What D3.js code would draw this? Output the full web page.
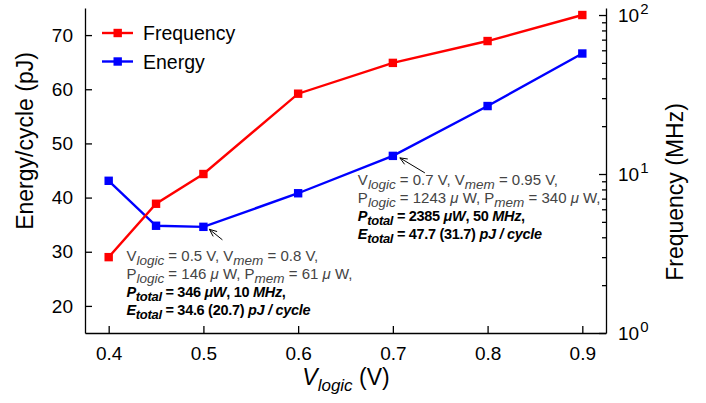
<!DOCTYPE html>
<html>
<head>
<meta charset="utf-8">
<script src="https://cdn.jsdelivr.net/npm/d3@7"></script>
<style>
  body { margin: 0; background: #fff; }
  text { font-family: "Liberation Sans", Arial, sans-serif; }
</style>
</head>
<body>
<div id="chart"></div>
<script>
// values
const vlogic = [0.4, 0.45, 0.5, 0.6, 0.7, 0.8, 0.9];
const energy = [43.1, 34.8, 34.6, 40.8, 47.7, 56.9, 66.6];      // pJ, left axis
const frequency = [3.0, 6.5, 10, 32, 50, 68.6, 100];            // MHz, right axis (log)
const xTicks = [0.4, 0.5, 0.6, 0.7, 0.8, 0.9];
const energyTicks = [20, 30, 40, 50, 60, 70];
const freqMajor = [1, 10, 100];
const freqMinor = [2, 3, 4, 5, 6, 7, 8, 9, 20, 30, 40, 50, 60, 70, 80, 90];

// annotation text, as segments (sub = subscript, it = italic)
const noteLow = [
  [{t: "V"}, {t: "logic", sub: 1, it: 1}, {t: " = 0.5 V, V"}, {t: "mem", sub: 1, it: 1}, {t: " = 0.8 V,"}],
  [{t: "P"}, {t: "logic", sub: 1, it: 1}, {t: " = 146 "}, {t: "\u03bc ", it: 1}, {t: "W, P"}, {t: "mem", sub: 1, it: 1}, {t: " = 61 "}, {t: "\u03bc ", it: 1}, {t: "W,"}],
  [{t: "P", it: 1}, {t: "total", sub: 1, it: 1}, {t: " = 346 "}, {t: "\u03bcW", it: 1}, {t: ", 10 "}, {t: "MHz", it: 1}, {t: ","}],
  [{t: "E", it: 1}, {t: "total", sub: 1, it: 1}, {t: " = 34.6 (20.7) "}, {t: "pJ / cycle", it: 1}]
];
const noteHigh = [
  [{t: "V"}, {t: "logic", sub: 1, it: 1}, {t: " = 0.7 V, V"}, {t: "mem", sub: 1, it: 1}, {t: " = 0.95 V,"}],
  [{t: "P"}, {t: "logic", sub: 1, it: 1}, {t: " = 1243 "}, {t: "\u03bc ", it: 1}, {t: "W, P"}, {t: "mem", sub: 1, it: 1}, {t: " = 340 "}, {t: "\u03bc ", it: 1}, {t: "W,"}],
  [{t: "P", it: 1}, {t: "total", sub: 1, it: 1}, {t: " = 2385 "}, {t: "\u03bcW", it: 1}, {t: ", 50 "}, {t: "MHz", it: 1}, {t: ","}],
  [{t: "E", it: 1}, {t: "total", sub: 1, it: 1}, {t: " = 47.7 (31.7) "}, {t: "pJ / cycle", it: 1}]
];

const width = 706, height = 403;
const plotLeft = 85, plotRight = 606, plotTop = 8, plotBottom = 333;

const x = d3.scaleLinear([0.375, 0.925], [plotLeft, plotRight]);
const yE = d3.scaleLinear([15, 75], [plotBottom, plotTop]);
const yF = d3.scaleLog([1, 110.7], [plotBottom, plotTop]);

const svg = d3.select("#chart").append("svg")
    .attr("width", width)
    .attr("height", height);

// axes, ticks point inward
const gx = svg.append("g")
    .attr("transform", `translate(0,${plotBottom})`)
    .call(d3.axisBottom(x).tickValues(xTicks).tickFormat(d3.format(".1f"))
        .tickSizeInner(-7).tickSizeOuter(0).tickPadding(14));

const gl = svg.append("g")
    .attr("transform", `translate(${plotLeft},0)`)
    .call(d3.axisLeft(yE).tickValues(energyTicks)
        .tickSizeInner(-7).tickSizeOuter(0).tickPadding(12));

const grMinor = svg.append("g")
    .attr("transform", `translate(${plotRight},0)`)
    .call(d3.axisRight(yF).tickValues(freqMinor).tickFormat("")
        .tickSizeInner(-4).tickSizeOuter(0));
grMinor.select(".domain").remove();

const gr = svg.append("g")
    .attr("transform", `translate(${plotRight},0)`)
    .call(d3.axisRight(yF).tickValues(freqMajor)
        .tickSizeInner(-7).tickSizeOuter(0).tickPadding(12));

// 10^n labels
gr.selectAll(".tick text").each(function(d) {
  const t = d3.select(this).text(null);
  t.append("tspan").text("10");
  t.append("tspan").attr("dy", -8).attr("dx", 1).attr("class", "exp").text(Math.round(Math.log10(d)));
});

[gx, gl, gr, grMinor].forEach(g => {
  g.selectAll("path, line").attr("stroke", "#000").attr("stroke-width", 1.3);
  g.selectAll("text").attr("font-size", 19).attr("fill", "#000")
      .attr("font-family", "'Liberation Sans', Arial, sans-serif");
});
gr.selectAll(".exp").attr("font-size", 15);

// axis titles
svg.append("text")
    .attr("transform", `translate(33,141) rotate(-90)`)
    .attr("text-anchor", "middle")
    .attr("font-size", 23)
    .text("Energy/cycle (pJ)");

svg.append("text")
    .attr("transform", `translate(683,192) rotate(-90)`)
    .attr("text-anchor", "middle")
    .attr("font-size", 23)
    .text("Frequency (MHz)");

const xl = svg.append("text")
    .attr("x", 346).attr("y", 385)
    .attr("text-anchor", "middle")
    .attr("font-size", 23);
xl.append("tspan").attr("font-style", "italic").text("V");
xl.append("tspan").attr("font-style", "italic").attr("font-size", 17).attr("dy", 6).text("logic");
xl.append("tspan").attr("dy", -6).text(" (V)");

// series
const series = [
  {name: "Energy", color: "#0000ff", y: yE, values: energy},
  {name: "Frequency", color: "#ff0000", y: yF, values: frequency}
];

series.forEach(s => {
  const pts = vlogic.map((v, i) => [x(v), s.y(s.values[i])]);
  svg.append("path")
      .attr("d", d3.line()(pts))
      .attr("fill", "none")
      .attr("stroke", s.color)
      .attr("stroke-width", 2.4);
  svg.append("g").selectAll("rect")
    .data(pts)
    .join("rect")
      .attr("x", d => d[0] - 4.2)
      .attr("y", d => d[1] - 4.2)
      .attr("width", 8.4)
      .attr("height", 8.4)
      .attr("fill", s.color);
});

// legend
const legend = svg.append("g").attr("transform", "translate(102,33)");
["Frequency", "Energy"].forEach((name, i) => {
  const s = series.find(d => d.name === name);
  const row = legend.append("g").attr("transform", `translate(0,${i * 28.5})`);
  row.append("line").attr("x1", 0).attr("x2", 31).attr("y1", 0).attr("y2", 0)
      .attr("stroke", s.color).attr("stroke-width", 2.4);
  row.append("rect").attr("x", 11.5).attr("y", -4.2).attr("width", 8.4).attr("height", 8.4)
      .attr("fill", s.color);
  row.append("text").attr("x", 41).attr("y", 7).attr("font-size", 19.5).text(name);
});

// annotations
function richLine(g, segs, y, color, bold) {
  const main = bold ? 14.5 : 15, sub = bold ? 13 : 13.5;
  const t = g.append("text").attr("x", 0).attr("y", y)
      .attr("font-size", main)
      .attr("fill", color)
      .attr("font-weight", bold ? "bold" : "normal");
  let shifted = false;
  segs.forEach(s => {
    const sp = t.append("tspan").text(s.t);
    if (s.it) sp.attr("font-style", "italic");
    if (s.sub) sp.attr("font-size", sub);
    if (s.sub && !shifted) { sp.attr("dy", 4); shifted = true; }
    else if (!s.sub && shifted) { sp.attr("dy", -4); shifted = false; }
  });
  if (bold) t.attr("letter-spacing", -0.3);
}

function note(idx, lines, dx, dy, tip, tail) {
  const px = x(vlogic[idx]), py = yE(energy[idx]);
  const g = svg.append("g").attr("transform", `translate(${px + dx},${py + dy})`);
  lines.forEach((segs, i) => richLine(g, segs, i * 18, i < 2 ? "#444" : "#000", i >= 2));
  // arrow
  const ax = px + tip[0], ay = py + tip[1], bx = px + tail[0], by = py + tail[1];
  const ang = Math.atan2(ay - by, ax - bx);
  const hl = 8, ha = 0.4;
  svg.append("path")
      .attr("d", `M${bx},${by}L${ax},${ay}` +
        `M${ax - hl * Math.cos(ang - ha)},${ay - hl * Math.sin(ang - ha)}L${ax},${ay}` +
        `L${ax - hl * Math.cos(ang + ha)},${ay - hl * Math.sin(ang + ha)}`)
      .attr("fill", "none")
      .attr("stroke", "#000")
      .attr("stroke-width", 1);
}

note(2, noteLow, -77, 34, [6, 2.5], [19, 13]);
note(4, noteHigh, -35, 29, [7, 2], [32, 17]);
</script>
</body>
</html>
